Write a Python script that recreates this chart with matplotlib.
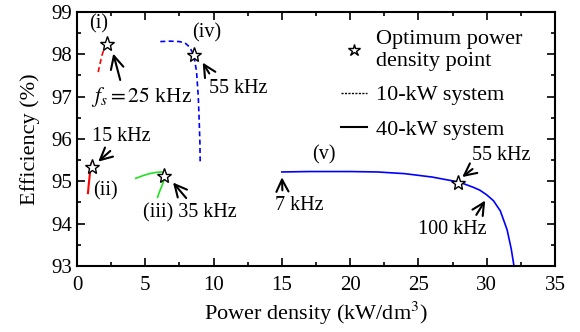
import matplotlib
matplotlib.use("Agg")
from matplotlib import pyplot as plt
import numpy as np

plt.rcParams['font.family'] = ['Liberation Serif', 'DejaVu Serif']
plt.rcParams['mathtext.fontset'] = 'stix'

# (i) 10-kW, red dashed
i_x = [1.55, 1.7, 1.85, 2.0, 2.15, 2.3]
i_y = [97.58, 97.8, 98.0, 98.15, 98.24, 98.3]
# (ii) 40-kW, red solid
ii_x = [0.8, 0.85, 0.9, 0.95, 1.0, 1.05]
ii_y = [94.72, 94.9, 95.05, 95.2, 95.32, 95.42]
# (iii) 40-kW, green solid
iii_x = [4.3, 4.8, 5.3, 5.8, 6.2, 6.5, 6.4, 6.2, 6.0, 5.9]
iii_y = [95.07, 95.13, 95.18, 95.21, 95.22, 95.2, 95.05, 94.88, 94.72, 94.62]
# (iv) 10-kW, blue dashed
iv_x = [6.1, 6.8, 7.5, 7.9, 8.25, 8.55, 8.75, 8.88, 8.95, 9.0, 9.02]
iv_y = [98.3, 98.31, 98.3, 98.27, 98.17, 97.98, 97.6, 97.0, 96.4, 95.9, 95.42]
# (v) 40-kW, blue solid
v_x = [15, 17, 20, 22, 24, 25, 26, 27, 28, 29, 29.5, 30, 30.5, 31, 31.5, 31.8, 32.0]
v_y = [95.22, 95.23, 95.23, 95.22, 95.18, 95.14, 95.1, 95.04, 94.98, 94.86, 94.79,
       94.68, 94.54, 94.3, 93.85, 93.4, 93.0]

# optimum points
opt_x = [2.2, 1.1, 6.4, 8.55, 27.9]
opt_y = [98.24, 95.33, 95.12, 97.98, 94.97]

fig = plt.figure(figsize=(5.8, 3.32), dpi=100)
ax = fig.add_axes([0.1328, 0.199, 0.824, 0.765])

ax.plot(i_x, i_y, color='red', ls=(0, (3, 2)), lw=1.2)
ax.plot(ii_x, ii_y, color='red', lw=1.5)
ax.plot(iii_x, iii_y, color='#22e022', lw=1.2)
ax.plot(iv_x, iv_y, color='blue', ls=(0, (3, 2)), lw=1.2)
ax.plot(v_x, v_y, color='blue', lw=1.2)
ax.plot(opt_x, opt_y, ls='none', marker='*', ms=11, mfc='white', mec='black', mew=1)

ax.set_xlim(0, 35)
ax.set_ylim(93, 99)
ax.set_xticks(np.arange(0, 36, 5))
ax.set_xticks(np.arange(0, 35, 2.5), minor=True)
ax.set_yticks(np.arange(93, 100, 1))
ax.set_yticks(np.arange(93, 99, 0.5), minor=True)
ax.tick_params(which='both', direction='in', top=True, right=True, labelsize=15)
ax.tick_params(axis='x', which='both', pad=7)
ax.tick_params(axis='y', which='both', pad=3.5)
ax.tick_params(which='major', length=6, width=1.2)
ax.tick_params(which='minor', length=3, width=1.2)
for s in ax.spines.values():
    s.set_linewidth(1.5)
ax.set_xlabel('Power density (kW/dm$^3$)', fontsize=16, labelpad=4)
ax.set_ylabel('Efficiency (%)', fontsize=16, labelpad=8)

# legend
h1, = ax.plot([], [], ls='none', marker='*', ms=9, mfc='white', mec='black', mew=1)
h2, = ax.plot([], [], color='black', ls=(0, (1.5, 1)), lw=1)
h3, = ax.plot([], [], color='black', lw=1.5)
ax.legend([h1, h2, h3], ['Optimum power\ndensity point', '10-kW system', '40-kW system'],
          loc='upper right', frameon=False, fontsize=16, handlelength=1.2,
          handletextpad=0.4, borderaxespad=0.2, labelspacing=0.62,
          bbox_to_anchor=(0.96, 0.98))

aprops = dict(arrowstyle='->, head_length=0.6, head_width=0.3', color='black', lw=1.5)
fs = 14.5
ax.text(1.6, 98.72, '(i)', fontsize=fs, ha='center', va='center')
ax.annotate('$f_s = 25$ kHz', xy=(2.6, 98.08), xytext=(1.05, 96.98), fontsize=fs + 1,
            ha='left', va='center', arrowprops=dict(aprops, relpos=(0.3, 1.0)))
ax.text(9.5, 98.5, '(iv)', fontsize=fs, ha='center', va='center')
ax.annotate('55 kHz', xy=(9.1, 97.86), xytext=(9.7, 97.2), fontsize=fs,
            ha='left', va='center', arrowprops=dict(aprops, relpos=(0.05, 1.0)))
ax.annotate('15 kHz', xy=(1.4, 95.42), xytext=(1.1, 96.05), fontsize=fs,
            ha='left', va='center', arrowprops=dict(aprops, relpos=(0.4, 0.0)))
ax.text(2.1, 94.78, '(ii)', fontsize=fs, ha='center', va='center')
ax.annotate('(iii) 35 kHz', xy=(6.9, 95.02), xytext=(8.3, 94.26), fontsize=fs,
            ha='center', va='center', arrowprops=dict(aprops, relpos=(0.5, 1.0)))
ax.text(18.1, 95.62, '(v)', fontsize=fs, ha='center', va='center')
ax.annotate('7 kHz', xy=(15.0, 95.16), xytext=(16.3, 94.43), fontsize=fs,
            ha='center', va='center', arrowprops=dict(aprops, relpos=(0.15, 1.0)))
ax.annotate('55 kHz', xy=(28.05, 95.06), xytext=(31.1, 95.62), fontsize=fs,
            ha='center', va='center', arrowprops=dict(aprops, relpos=(0.1, 0.0)))
ax.annotate('100 kHz', xy=(30.0, 94.6), xytext=(27.5, 93.86), fontsize=fs,
            ha='center', va='center', arrowprops=dict(aprops, relpos=(0.8, 1.0)))

fig.savefig('out.png', dpi=100)
